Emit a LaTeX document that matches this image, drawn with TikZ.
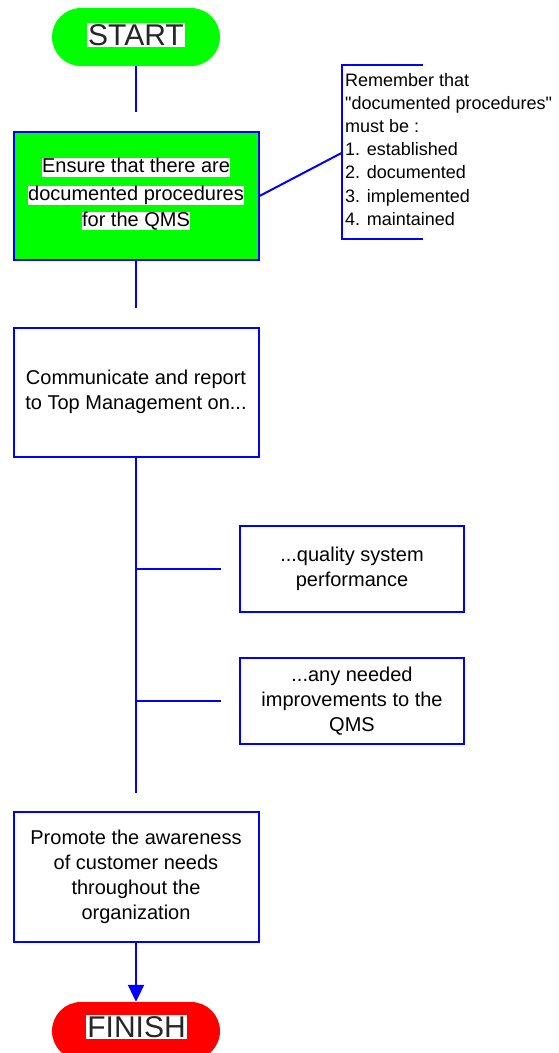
\documentclass[tikz,border=0pt]{standalone}
\usepackage{fontspec}
\setmainfont{Liberation Sans}[Ligatures=TeXOff]
\usetikzlibrary{arrows.meta}
\definecolor{qblue}{RGB}{0,0,255}
\definecolor{qgreen}{RGB}{0,255,0}
\definecolor{qred}{RGB}{255,0,0}
\begin{document}
\begin{tikzpicture}[x=1pt,y=-1pt,
  conn/.style={draw=qblue,line width=2pt},
  procbox/.style={draw=qblue,line width=2pt,fill=white,inner sep=0pt,
    align=center,font=\fontsize{20}{25}\selectfont},
  pill/.style={rounded corners=29pt,minimum width=168pt,minimum height=58pt,
    inner sep=0pt},
  pilltext/.style={fill=white,inner xsep=1pt,inner ysep=1pt,text height=21.5pt,
    text depth=0.5pt,font=\fontsize{30}{30}\selectfont,text=black!85},
  hilite/.style={fill=white,inner xsep=0.5pt,inner ysep=0.5pt,text height=14pt,
    text depth=3.5pt,font=\fontsize{20}{25}\selectfont}
]
\clip (0,0) rectangle (559,1053);
\fill[white] (0,0) rectangle (559,1053);

% terminators
\node[pill,fill=qgreen] (start) at (136,37) {};
\node[pilltext] (startlbl) at (136,35) {START};
\node[pill,fill=qred] (finish) at (136,1031) {};
\node[pilltext] (finishlbl) at (136.5,1027) {FINISH};

% green step with highlighted text lines
\node[procbox,fill=qgreen,minimum width=245pt,minimum height=128pt] (box1) at (136,196) {};
\node[hilite] (l1) at (136,167.5) {Ensure that there are};
\node[hilite] (l2) at (136,195.5) {documented procedures};
\node[hilite] (l3) at (136,221) {for the QMS};

% reminder note beside the first step
\coordinate (note) at (341.5,153);
\draw[conn] (423,65) -- (341.5,65) -- (341.5,239) -- (423,239);
\node[anchor=north west,inner sep=0pt,align=left,
  font=\fontsize{18}{23.2}\selectfont] (notetext) at (345,72.8)
  {Remember that\\"documented procedures"\\must be :\\1. established\\2. documented\\3. implemented\\4. maintained};
\draw[conn] (box1.east) -- (note);

% remaining steps
\node[procbox,minimum width=245pt,minimum height=129pt] (box2) at (136,392)
  {Communicate and report\\to Top Management on...};
\node[procbox,minimum width=224pt,minimum height=86pt] (box3) at (352,569)
  {...quality system\\performance};
\node[procbox,minimum width=224pt,minimum height=86pt] (box4) at (352,701)
  {...any needed\\improvements to the\\QMS};
\node[procbox,minimum width=245pt,minimum height=130pt] (box5) at (136,877)
  {Promote the awareness\\of customer needs\\throughout the\\organization};

% connectors
\coordinate (a1) at (136,112);
\coordinate (a2) at (136,308);
\coordinate (a3) at (136,792.7);
\coordinate (j1) at (136,569);
\coordinate (e1) at (220.7,569);
\coordinate (j2) at (136,701);
\coordinate (e2) at (220.7,701);
\draw[conn] (start.south) -- (a1);
\draw[conn] (box1.south) -- (a2);
\draw[conn] (box2.south) -- (a3);
\draw[conn] (j1) -- (e1);
\draw[conn] (j2) -- (e2);
\draw[conn,-{Triangle[width=16pt,length=17pt]},fill=qblue] (box5.south) -- (finish.north);
\end{tikzpicture}
\end{document}
